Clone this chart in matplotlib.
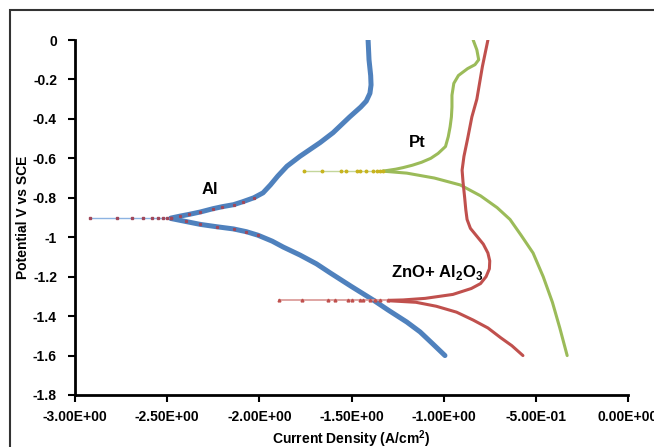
import matplotlib
matplotlib.use("Agg")
import matplotlib.pyplot as plt
import matplotlib.patches as patches

plt.rcParams["font.family"] = ["Liberation Sans", "DejaVu Sans"]
plt.rcParams["font.weight"] = "bold"
plt.rcParams["mathtext.fontset"] = "custom"
plt.rcParams["mathtext.rm"] = "Liberation Sans:bold"
plt.rcParams["mathtext.bf"] = "Liberation Sans:bold"

# Al curve
al_anodic_x = [-1.41, -1.405, -1.396, -1.394, -1.40, -1.42, -1.45, -1.51, -1.60, -1.67,
               -1.78, -1.85, -1.90, -1.94, -1.98, -2.03, -2.09, -2.14, -2.20, -2.25,
               -2.32, -2.38, -2.43, -2.48]
al_anodic_y = [0.0, -0.10, -0.18, -0.228, -0.27, -0.31, -0.34, -0.39, -0.47, -0.52,
               -0.59, -0.64, -0.69, -0.735, -0.775, -0.80, -0.82, -0.835, -0.845, -0.855,
               -0.872, -0.884, -0.893, -0.903]
al_cathodic_x = [-2.48, -2.40, -2.32, -2.23, -2.14, -2.07, -2.007, -1.93, -1.87,
                 -1.78, -1.69, -1.617, -1.50, -1.383, -1.30, -1.20, -1.128, -1.06, -0.993]
al_cathodic_y = [-0.905, -0.92, -0.935, -0.947, -0.958, -0.972, -0.99, -1.02, -1.05,
                 -1.09, -1.135, -1.18, -1.25, -1.318, -1.37, -1.43, -1.48, -1.54, -1.60]
al_tail_x = [-2.92, -2.77, -2.69, -2.63, -2.58, -2.55, -2.52, -2.50, -2.48]
al_ecorr = -0.904

# Pt curve
pt_anodic_x = [-0.84, -0.82, -0.81, -0.83, -0.87, -0.92, -0.945, -0.955, -0.955,
               -0.958, -0.965, -0.975, -0.99, -1.03, -1.07, -1.12, -1.17, -1.22,
               -1.26, -1.33]
pt_anodic_y = [0.0, -0.05, -0.10, -0.125, -0.145, -0.18, -0.22, -0.28, -0.34,
               -0.39, -0.44, -0.49, -0.54, -0.575, -0.60, -0.62, -0.635, -0.647,
               -0.655, -0.665]
pt_cathodic_x = [-1.33, -1.20, -1.05, -0.91, -0.80, -0.71, -0.64, -0.58, -0.515,
                 -0.46, -0.41, -0.37, -0.33]
pt_cathodic_y = [-0.665, -0.675, -0.70, -0.735, -0.79, -0.85, -0.91, -0.99, -1.08,
                 -1.20, -1.33, -1.46, -1.60]
pt_tail_x = [-1.758, -1.66, -1.557, -1.53, -1.47, -1.454, -1.42, -1.383, -1.36,
             -1.345, -1.33]
pt_ecorr = -0.665

# ZnO + Al2O3 curve
zn_anodic_x = [-0.76, -0.79, -0.82, -0.847, -0.87, -0.89, -0.90, -0.895, -0.886,
               -0.88, -0.873, -0.855, -0.82, -0.785, -0.76, -0.75, -0.752, -0.77,
               -0.80, -0.85, -0.95, -1.10, -1.22, -1.30]
zn_anodic_y = [0.0, -0.135, -0.30, -0.39, -0.50, -0.59, -0.66, -0.72, -0.80,
               -0.86, -0.91, -0.955, -0.995, -1.035, -1.08, -1.12, -1.16, -1.20,
               -1.235, -1.26, -1.29, -1.31, -1.318, -1.32]
zn_cathodic_x = [-1.30, -1.15, -1.04, -0.93, -0.84, -0.76, -0.69, -0.63, -0.57]
zn_cathodic_y = [-1.322, -1.33, -1.35, -1.38, -1.42, -1.46, -1.51, -1.55, -1.60]
zn_tail_x = [-1.893, -1.768, -1.627, -1.59, -1.519, -1.497, -1.454, -1.437, -1.40,
             -1.37, -1.345, -1.30]
zn_ecorr = -1.32

x_ticks = [-3.0, -2.5, -2.0, -1.5, -1.0, -0.5, 0.0]
x_labels = ["-3.00E+00", "-2.50E+00", "-2.00E+00", "-1.50E+00", "-1.00E+00",
            "-5.00E-01", "0.00E+00"]
y_ticks = [0, -0.2, -0.4, -0.6, -0.8, -1, -1.2, -1.4, -1.6, -1.8]
y_labels = ["0", "-0.2", "-0.4", "-0.6", "-0.8", "-1", "-1.2", "-1.4", "-1.6", "-1.8"]

blue = "#4f81bd"
red = "#c0504d"
green = "#9bbb59"

fig = plt.figure(figsize=(6.54, 4.47), dpi=100)
ax = fig.add_axes([75 / 654, 1 - 395 / 447, (628 - 75) / 654, (395 - 40) / 447])

# outer frame of the chart area
frame = patches.Rectangle((10 / 654, -0.2), 1.2, 1.0 - 10 / 447 + 0.2,
                          transform=fig.transFigure, fill=False,
                          edgecolor="#333333", linewidth=1.5)
fig.patches.append(frame)

# thin tails near Ecorr with markers
ax.plot(al_tail_x, [al_ecorr] * len(al_tail_x), color="#8db3e2", lw=1.0,
        marker="s", ms=2.0, mfc="#a0485a", mec="#a0485a", zorder=3)
ax.plot(pt_tail_x, [pt_ecorr] * len(pt_tail_x), color="#c3d69b", lw=1.0,
        marker="o", ms=1.8, mfc="#c8b41e", mec="#c8b41e", zorder=3)
ax.plot(zn_tail_x, [zn_ecorr] * len(zn_tail_x), color="#d99694", lw=1.2,
        marker="^", ms=2.0, mfc="#c0504d", mec="#c0504d", zorder=3)

# thick branches
ax.plot(al_anodic_x, al_anodic_y, color=blue, lw=3.6, solid_capstyle="round",
        solid_joinstyle="round", zorder=2)
ax.plot(al_cathodic_x, al_cathodic_y, color=blue, lw=3.6, solid_capstyle="round",
        solid_joinstyle="round", zorder=2)
ax.plot(al_anodic_x[-9:], al_anodic_y[-9:], ls="none", marker="s", ms=1.3,
        color="#a0485a", zorder=3)
ax.plot(al_cathodic_x[:7], al_cathodic_y[:7], ls="none", marker="s", ms=1.3,
        color="#a0485a", zorder=3)

ax.plot(pt_anodic_x, pt_anodic_y, color=green, lw=2.2, solid_capstyle="round",
        solid_joinstyle="round", zorder=2)
ax.plot(pt_cathodic_x, pt_cathodic_y, color=green, lw=2.2, solid_capstyle="round",
        solid_joinstyle="round", zorder=2)

ax.plot(zn_anodic_x, zn_anodic_y, color=red, lw=2.2, solid_capstyle="round",
        solid_joinstyle="round", zorder=2)
ax.plot(zn_cathodic_x, zn_cathodic_y, color=red, lw=2.2, solid_capstyle="round",
        solid_joinstyle="round", zorder=2)

# labels on curves
ax.text(-2.27, -0.76, "Al", fontsize=12, fontweight="bold", ha="center", va="center")
ax.text(-1.145, -0.52, "Pt", fontsize=12, fontweight="bold", ha="center", va="center")
ax.text(-1.036, -1.18, "ZnO+ Al$_2$O$_3$", fontsize=12,
        fontweight="bold", ha="center", va="center")

ax.set_xlim(-3.0, 0.0)
ax.set_ylim(-1.8, 0.0)
ax.set_xticks(x_ticks)
ax.set_xticklabels(x_labels)
ax.set_yticks(y_ticks)
ax.set_yticklabels(y_labels)
ax.tick_params(direction="out", length=5, width=1.5, labelsize=10)
ax.tick_params(axis="x", pad=6)
ax.tick_params(axis="y", pad=8)

for s in ["top", "right"]:
    ax.spines[s].set_visible(False)
for s in ["left", "bottom"]:
    ax.spines[s].set_linewidth(2)
ax.patch.set_alpha(0)

ax.set_xlabel("Current Density (A/cm$^2$)", fontsize=10, fontweight="bold",
              labelpad=3)
ax.set_ylabel("Potential V vs SCE", fontsize=10, fontweight="bold", labelpad=2)

fig.savefig("out.png", dpi=100)
